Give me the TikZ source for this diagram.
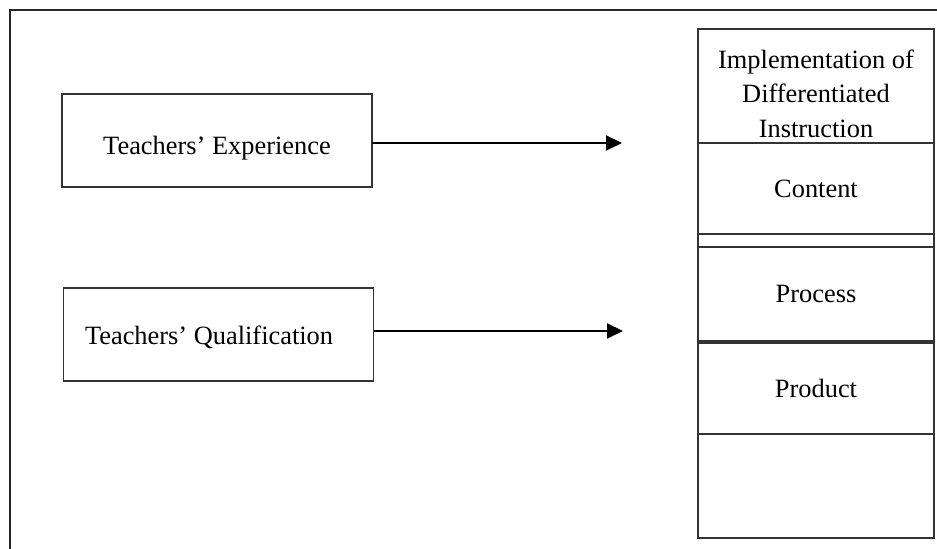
\documentclass[tikz,border=0pt]{standalone}
\usepackage{fontspec}
\setmainfont{Liberation Serif}
\usetikzlibrary{arrows.meta, positioning}
\tikzset{
  every picture/.style={x=0.5pt, y=-0.5pt, font=\fontsize{13.2}{17.25}\selectfont},
  factor/.style={draw=black!80, line width=0.6pt, minimum width=155pt, minimum height=46.5pt, inner sep=0pt, outer sep=0pt},
  part/.style={draw=black!80, line width=0.6pt, minimum width=118pt, minimum height=#1, inner sep=0pt, outer sep=0pt},
  part/.default=45.5pt,
  arrow/.style={-{Triangle[length=8pt, width=7.5pt]}, line width=1pt},
  frame/.style={draw=black!85, line width=0.7pt},
}

\begin{document}
\begin{tikzpicture}
  \useasboundingbox (0,0) rectangle (937,549);
  \draw[frame] (10,549) -- (10,10) -- (937,10);
  % independent variables
  \node[factor, text height=14.5pt, text depth=0pt] (exp) at (217,140.5) {Teachers' Experience};
  \node[factor, text height=10.5pt, text depth=0pt, text width=133.5pt, align=flush left, inner xsep=10.5pt] (qual) at (218.5,334.5) {Teachers' Qualification};
  % dependent variable column
  \node[part=57pt] (hdr) at (816,86) {};
  \node at (816,93.4) [align=center] {Implementation of\\Differentiated\\Instruction};
  \node[part, below=0pt of hdr] (cont) {Content};
  \node[part=6.5pt, below=0pt of cont] (strip) {};
  \node[part=47pt, below=0pt of strip] (proc) {Process};
  \node[part, below=1pt of proc] (prod) {Product};
  \node[part=52pt, below=0pt of prod] (blank) {};
  % arrows
  \coordinate (expend) at (622,143);
  \coordinate (qualend) at (623,331);
  \draw[arrow] (exp.east |- expend) -- (expend);
  \draw[arrow] (qual.east |- qualend) -- (qualend);
\end{tikzpicture}
\end{document}
